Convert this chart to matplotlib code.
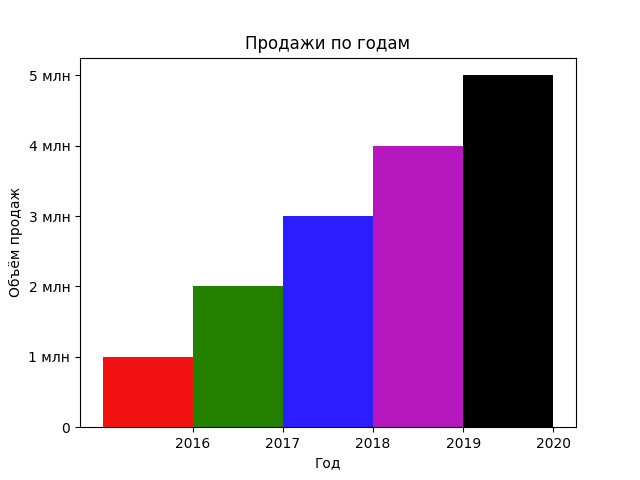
import matplotlib.pyplot as plt
from matplotlib.ticker import FuncFormatter

years = [2016, 2017, 2018, 2019, 2020]
sales = [1000000, 2000000, 3000000, 4000000, 5000000]
colors = ["#f21212", "#268000", "#2b1dff", "#b516be", "#000000"]


def mln(value, pos):
    if value == 0:
        return "0"
    return f"{value / 1e6:.0f} млн"


fig, ax = plt.subplots(figsize=(6.4, 4.8), dpi=100)
ax.bar(years, sales, width=-1, align="edge", color=colors)
ax.set_xticks(years)
ax.yaxis.set_major_formatter(FuncFormatter(mln))
ax.set_xlabel("Год")
ax.set_ylabel("Объём продаж")
ax.set_title("Продажи по годам")
fig.savefig("out.png")
